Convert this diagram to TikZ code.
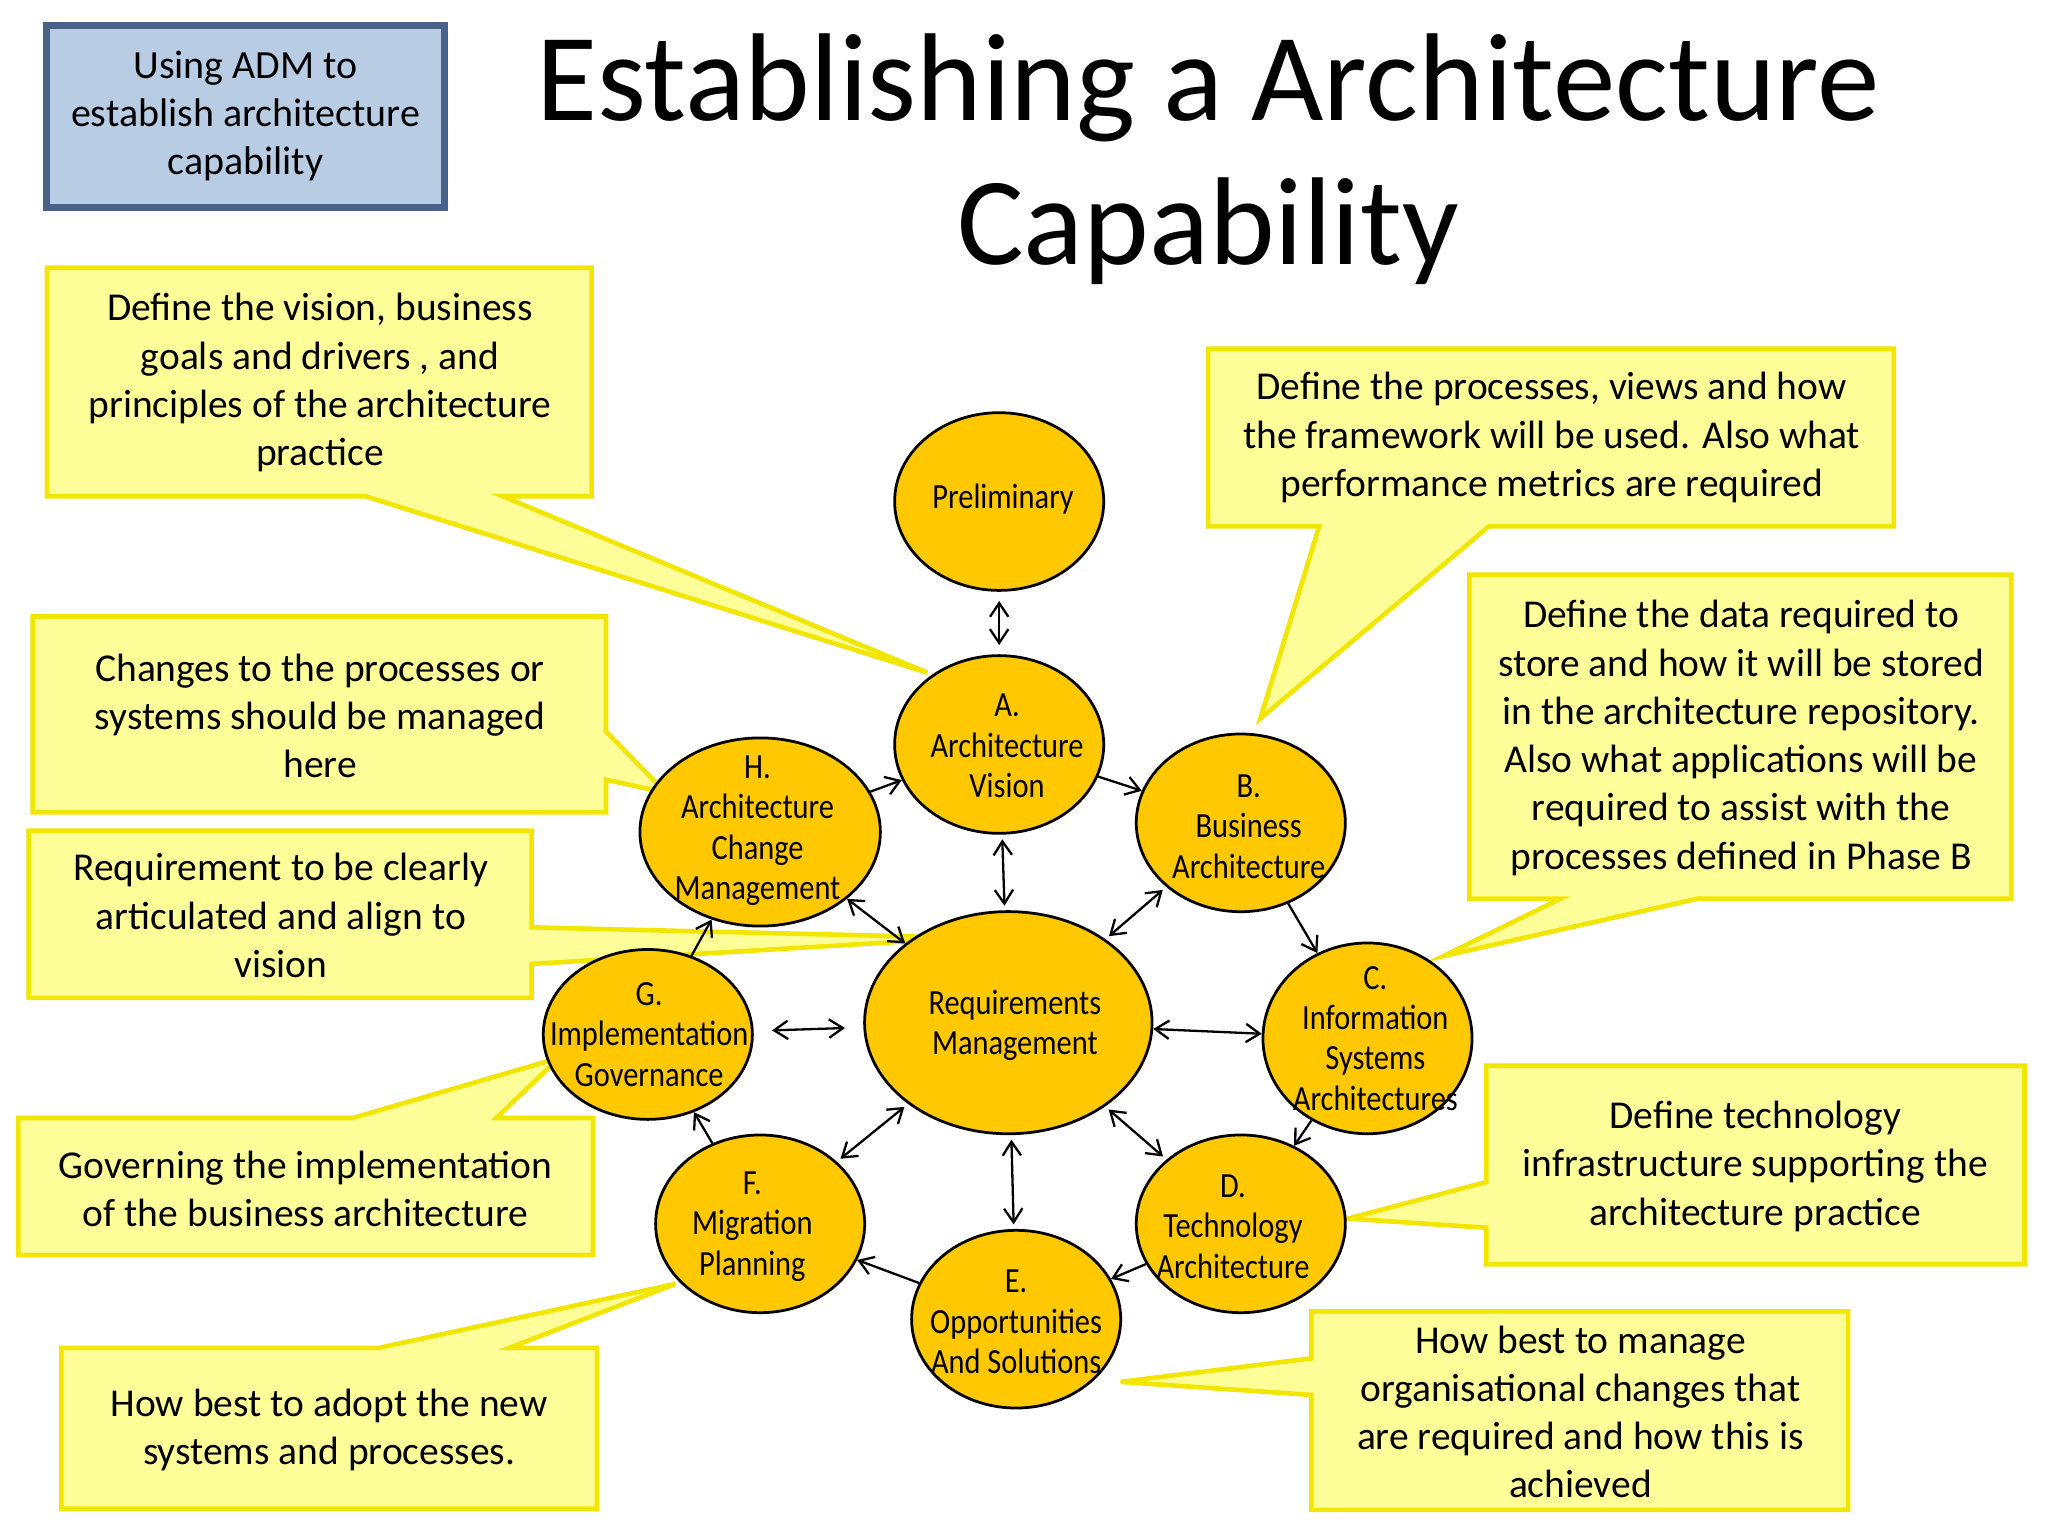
\documentclass[tikz,border=0pt]{standalone}
\usepackage{fontspec}
\setmainfont{Carlito}
\newfontfamily\ellf[FakeStretch=0.86]{Carlito}
\usetikzlibrary{shapes.geometric,arrows.meta}
\begin{document}
\begin{tikzpicture}[x=0.01cm,y=-0.01cm,
  phase/.style={ellipse,draw=black,fill=ph,line width=0.6pt,inner sep=0pt},
  ptext/.style={align=center,font=\ellf\fontsize{7.7}{8.8}\selectfont},
  call/.style={fill=cy,draw=cb,line width=1pt},
  ctext/.style={align=center,font=\fontsize{8.6}{10.5}\selectfont},
  dbl/.style={{Straight Barb[length=3pt,width=4pt]}-{Straight Barb[length=3pt,width=4pt]},line width=0.5pt},
  sgl/.style={-{Straight Barb[length=3pt,width=4pt]},line width=0.5pt}]
\definecolor{ph}{HTML}{FFC800}
\definecolor{cy}{HTML}{FFFF99}
\definecolor{cb}{HTML}{F2E600}
\definecolor{bx}{HTML}{B8CCE4}
\definecolor{bxb}{HTML}{4A6289}
\useasboundingbox (0,0) rectangle (1568,1176);
\fill[white] (0,0) rectangle (1568,1176);
% top-left box
\node[draw=bxb,fill=bx,line width=1.5pt,minimum width=3.04cm,minimum height=1.39cm,align=center,font=\fontsize{8.7}{10.5}\selectfont] (cap) at (188,89) {Using ADM to\\establish architecture\\capability};
\node[align=center,font=\fontsize{27.2}{31.5}\selectfont] (title) at (925,122) {Establishing a Architecture\\Capability};
% callouts
\draw[call] (36,205)--(453,205)--(453,380)--(385,380)--(710,515)--(280,380)--(36,380)--cycle;
\node[ctext] (t1) at (245,293) {Define the vision, business\\goals and drivers , and\\principles of the architecture\\practice};
\draw[call] (925,267)--(1450,267)--(1450,403)--(1140,403)--(965,550)--(1010,403)--(925,403)--cycle;
\node[ctext] (t2) at (1188,335) {Define the processes, views and how\\the framework will be used. Also what\\performance metrics are required};
\draw[call] (1125,440)--(1540,440)--(1540,688)--(1300,688)--(1105,732)--(1195,688)--(1125,688)--cycle;
\node[ctext] (t3) at (1333,565) {Define the data required to\\store and how it will be stored\\in the architecture repository.\\Also what applications will be\\required to assist with the\\processes defined in Phase B};
\draw[call] (25,472)--(464,472)--(464,560)--(510,607)--(464,597)--(464,622)--(25,622)--cycle;
\node[ctext] (t4) at (245,548) {Changes to the processes or\\systems should be managed\\here};
\draw[call] (22,636)--(407,636)--(407,710)--(740,718)--(407,738)--(407,764)--(22,764)--cycle;
\node[ctext] (t5) at (215,701) {Requirement to be clearly\\articulated and align to\\vision};
\draw[call] (14,856)--(270,856)--(428,810)--(380,856)--(454,856)--(454,961)--(14,961)--cycle;
\node[ctext] (t6) at (234,910) {Governing the implementation\\of the business architecture};
\draw[call] (1138,816)--(1550,816)--(1550,968)--(1138,968)--(1138,940)--(1032,933)--(1138,905)--cycle;
\node[ctext] (t7) at (1344,893) {Define technology\\infrastructure supporting the\\architecture practice};
\draw[call] (47,1032)--(290,1032)--(517,983)--(390,1032)--(457,1032)--(457,1155)--(47,1155)--cycle;
\node[ctext] (t8) at (252,1095) {How best to adopt the new\\systems and processes.};
\draw[call] (1004,1004)--(1415,1004)--(1415,1156)--(1004,1156)--(1004,1068)--(858,1058)--(1004,1040)--cycle;
\node[ctext] (t9) at (1210,1081) {How best to manage\\organisational changes that\\are required and how this is\\achieved};
% phases
\node[phase,minimum width=1.6cm,minimum height=1.36cm] (P) at (765,384) {};
\node[phase,minimum width=1.6cm,minimum height=1.36cm] (A) at (765,570) {};
\node[phase,minimum width=1.6cm,minimum height=1.36cm] (B) at (950,630) {};
\node[phase,minimum width=1.6cm,minimum height=1.46cm] (C) at (1047,795) {};
\node[phase,minimum width=1.6cm,minimum height=1.36cm] (D) at (950,937) {};
\node[phase,minimum width=1.6cm,minimum height=1.36cm] (E) at (778,1010) {};
\node[phase,minimum width=1.6cm,minimum height=1.36cm] (F) at (582,937) {};
\node[phase,minimum width=1.6cm,minimum height=1.3cm] (G) at (496,792) {};
\node[phase,minimum width=1.84cm,minimum height=1.44cm] (H) at (582,637) {};
\node[phase,minimum width=2.2cm,minimum height=1.7cm] (R) at (772,783) {};
\node[ptext] (Pt) at (768,382) {Preliminary};
\node[ptext] (At) at (771,571) {A.\\Architecture\\Vision};
\node[ptext] (Bt) at (956,633) {B.\\Business\\Architecture};
\node[ptext] (Ct) at (1053,795) {C.\\Information\\Systems\\Architectures};
\node[ptext] (Dt) at (944,939) {D.\\Technology\\Architecture};
\node[ptext] (Et) at (778,1012) {E.\\Opportunities\\And Solutions};
\node[ptext] (Ft) at (576,939) {F.\\Migration\\Planning};
\node[ptext] (Gt) at (497,792) {G.\\Implementation\\Governance};
\node[ptext] (Ht) at (580,636) {H.\\Architecture\\Change\\Management};
\node[ptext] (Rt) at (777,785) {Requirements\\Management};
% connectors
\draw[dbl,shorten >=2pt,shorten <=2pt] (P)--(A);
\draw[dbl,shorten >=1pt,shorten <=1pt] (A)--(R);
\draw[dbl,shorten >=1pt,shorten <=1pt] (R)--(B);
\draw[dbl] (R)--(C);
\draw[dbl,shorten >=1pt,shorten <=1pt] (R)--(D);
\draw[dbl,shorten >=1pt,shorten <=1pt] (R)--(E);
\draw[dbl,shorten >=1pt,shorten <=1pt] (R)--(F);
\draw[dbl,shorten >=4pt,shorten <=4pt] (R)--(G);
\draw[dbl] (R)--(H);
\draw[sgl] (H)--(A);
\draw[sgl] (A)--(B);
\draw[sgl] (B)--(C);
\draw[sgl] (C)--(D);
\draw[sgl] (D)--(E);
\draw[sgl] (E)--(F);
\draw[sgl] (F)--(G);
\draw[sgl] (G)--(H);
\end{tikzpicture}
\end{document}
